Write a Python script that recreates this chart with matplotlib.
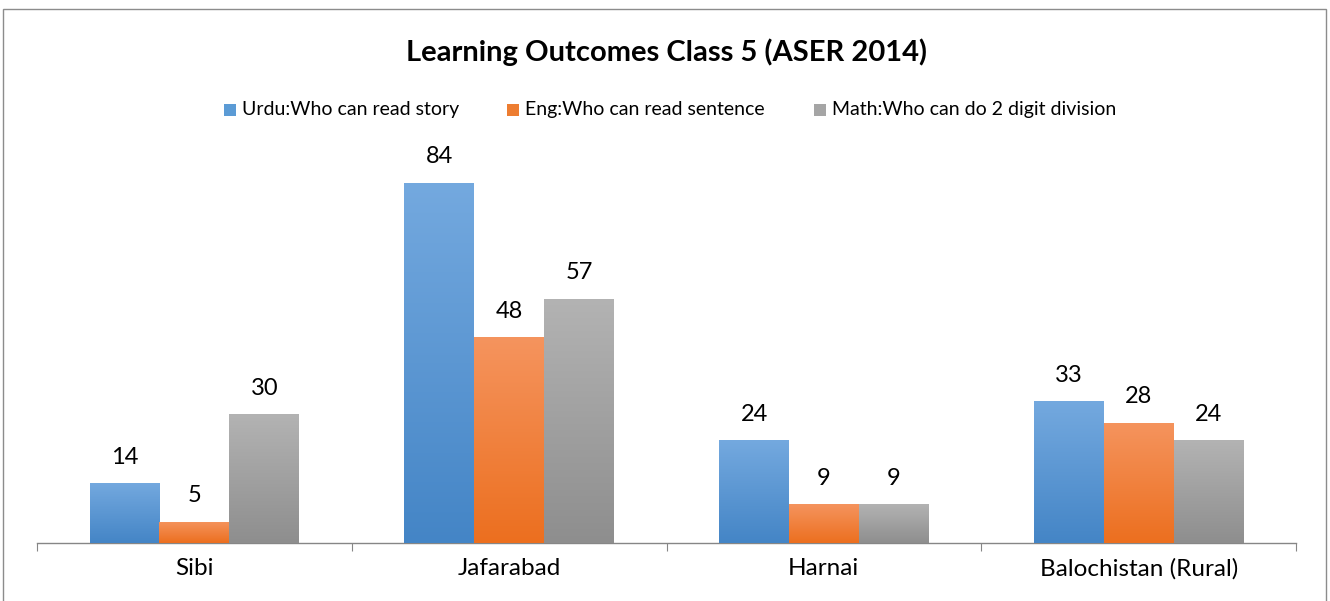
import matplotlib
matplotlib.use("Agg")
import matplotlib.pyplot as plt
import numpy as np
from matplotlib.patches import Rectangle
from matplotlib.colors import LinearSegmentedColormap

categories = ["Sibi", "Jafarabad", "Harnai", "Balochistan (Rural)"]
series_names = ["Urdu:Who can read story", "Eng:Who can read sentence", "Math:Who can do 2 digit division"]
urdu = [14, 84, 24, 33]
eng = [5, 48, 9, 28]
math_ = [30, 57, 9, 24]
values = [urdu, eng, math_]

top_colors = ["#74a9df", "#f5945e", "#b3b3b3"]
bot_colors = ["#4485c6", "#ec6f1f", "#8e8e8e"]
mid_colors = ["#5b9bd5", "#ed7d31", "#a5a5a5"]

plt.rcParams['font.family'] = ['Lato', 'DejaVu Sans']

fig = plt.figure(figsize=(13.3, 6.01), dpi=100)
ax = fig.add_axes([37/1330, 58/601, 1259/1330, 386/601])

bw = 0.222
x = np.arange(len(categories)) + 0.5
for i, vals in enumerate(values):
    pos = x + (i - 1) * bw
    bars = ax.bar(pos, vals, width=bw, color=mid_colors[i], linewidth=0, zorder=2)
    cmap = LinearSegmentedColormap.from_list("g%d" % i, [bot_colors[i], top_colors[i]])
    for b, v in zip(bars, vals):
        grad = np.linspace(0, 1, 256).reshape(-1, 1)
        im = ax.imshow(grad, cmap=cmap, origin='lower', aspect='auto',
                       extent=[b.get_x(), b.get_x() + b.get_width(), 0, v], zorder=3)
        im.set_clip_path(b)
        ax.text(b.get_x() + b.get_width() / 2, v + 3.6, str(v), ha='center', va='bottom',
                fontsize=17, color='#000000')

ax.set_xlim(0, 4)
ax.set_ylim(0, 90)
for s in ['top', 'right', 'left']:
    ax.spines[s].set_visible(False)
ax.spines['bottom'].set_color('#868686')
ax.spines['bottom'].set_linewidth(1.0)
ax.set_yticks([])
ax.set_xticks([0, 1, 2, 3, 4])
ax.set_xticklabels([])
ax.tick_params(axis='x', length=6, color='#868686', direction='out')
for xi, c in zip(x, categories):
    ax.text(xi, -3.4, c, ha='center', va='top', fontsize=17.5, color='#000000')

fig.text(666/1330, 1 - 52/601, "Learning Outcomes Class 5 (ASER 2014)", ha='center', va='center',
         fontsize=21, fontweight='bold', color='#000000')

leg_x = [224, 507, 814]
for lx, name, col in zip(leg_x, series_names, mid_colors):
    fig.patches.append(Rectangle((lx / 1330, 1 - 116/601), 12/1330, 12/601,
                                 transform=fig.transFigure, facecolor=col, edgecolor='none'))
    fig.text((lx + 18) / 1330, 1 - 109/601, name, ha='left', va='center', fontsize=14, color='#000000')

fig.patches.append(Rectangle((3/1330, -0.01), 1323/1330, 1 - 9/601 + 0.01, transform=fig.transFigure,
                             facecolor='none', edgecolor='#8c8c8c', linewidth=1.0))

fig.savefig("out.png", dpi=100)
